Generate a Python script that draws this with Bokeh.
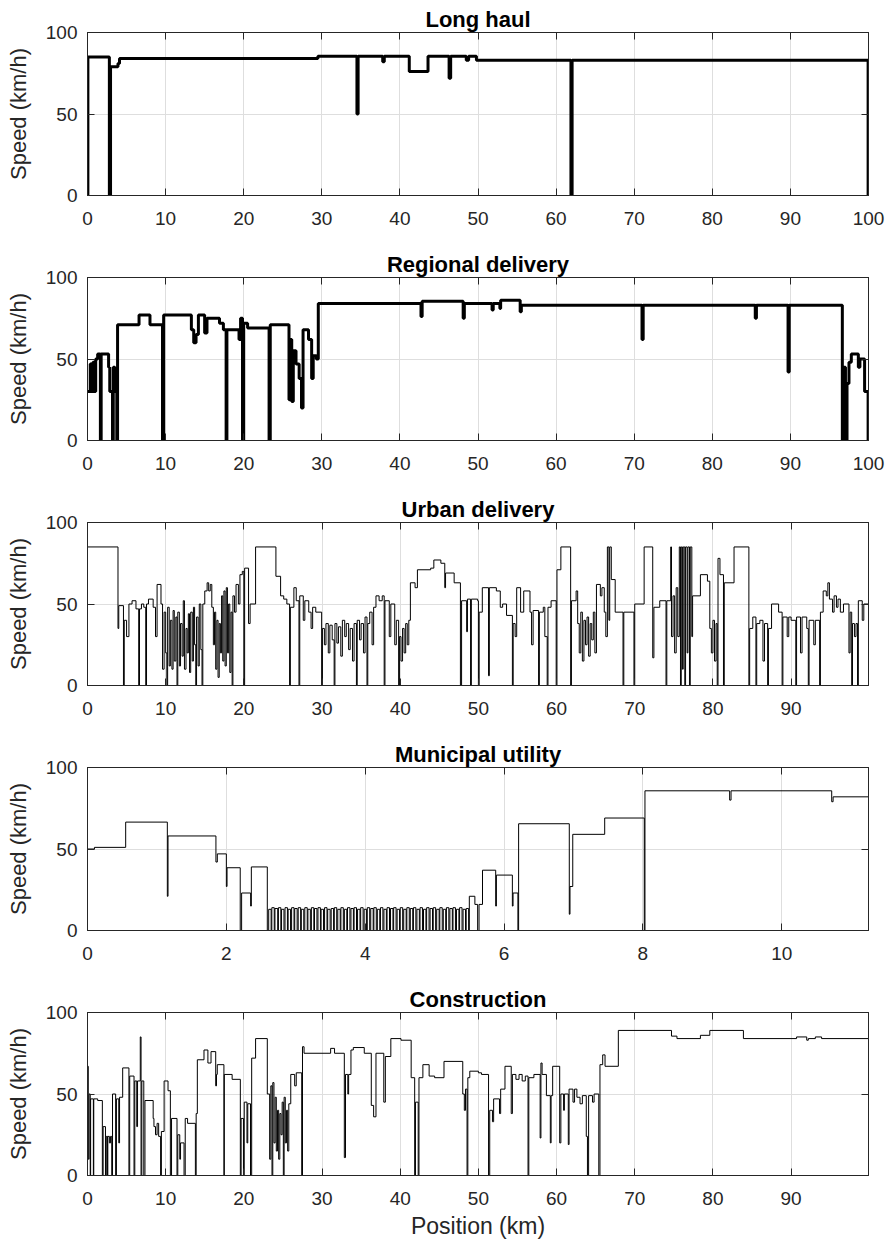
from bokeh.plotting import figure
from bokeh.layouts import column
from bokeh.models import Range1d, FixedTicker, LinearAxis, Grid
from bokeh.embed import file_html
from bokeh.resources import INLINE

# ---------------- data ----------------
speed_ticks = [0, 50, 100]
km_ticks_100 = [0, 10, 20, 30, 40, 50, 60, 70, 80, 90, 100]
km_ticks_90 = [0, 10, 20, 30, 40, 50, 60, 70, 80, 90]
km_ticks_mun = [0, 2, 4, 6, 8, 10]

# Long haul
lh_pos = [0, 0.05, 2.8, 2.95, 3.9, 4.1, 29.5, 34.5, 34.65, 37.8,
          38.0, 41.2, 43.6, 46.3, 46.5, 48.5, 48.8, 49.8, 61.9, 62.05,
          99.95, 100]
lh_speed = [0, 85, 0, 79, 81, 84, 85.5, 50, 85.5, 82,
            85.5, 76, 85.5, 72, 85.5, 83, 85.5, 83, 0, 83,
            0, 0]

# Regional delivery
rd_pos = [0.0, 0.35, 0.5, 0.7, 0.9, 1.05, 1.3, 1.65, 1.75, 2.7,
          2.85, 3.2, 3.3, 3.5, 3.75, 3.85, 6.6, 8.0, 9.6, 9.75,
          13.3, 13.6, 13.9, 14.2, 15.0, 15.3, 16.9, 17.4, 17.75, 17.85,
          19.4, 19.6, 19.85, 20.0, 20.5, 23.25, 23.4, 25.8, 26.0, 26.15,
          26.35, 26.7, 27.1, 27.4, 27.6, 28.3, 28.7, 28.9, 29.3, 29.55,
          42.7, 42.85, 48.1, 48.25, 51.8, 51.95, 52.8, 52.9, 55.4, 55.55,
          71.0, 71.15, 85.5, 85.65, 89.7, 89.85, 96.65, 96.85, 97.05, 97.25,
          97.5, 97.8, 98.7, 98.9, 99.5, 99.95, 100]
rd_speed = [30, 47, 30, 48, 30, 50, 53, 0, 53, 45,
            30, 0, 45, 30, 0, 71, 77, 71, 0, 77,
            68, 60, 65, 77, 66, 75, 72, 68, 0, 68,
            62, 75, 0, 72, 69, 0, 71, 25, 62, 24,
            55, 47, 38, 20, 68, 62, 38, 52, 50, 84,
            76, 85.5, 75, 84, 80, 84, 81, 86, 79, 83,
            62, 83, 75, 83, 42, 83, 0, 45, 0, 35,
            48, 53, 45, 50, 30, 0, 0]

# Urban delivery
ud_pos = [0, 3.9, 4.0, 4.6, 4.7, 5.0, 5.3, 5.7, 6.2, 6.55,
          6.65, 6.9, 7.2, 7.45, 7.55, 7.8, 8.4, 8.7, 8.9, 9.4,
          9.6, 9.8, 10.0, 10.15, 10.25, 10.45, 10.6, 10.8, 10.95, 11.1,
          11.3, 11.45, 11.55, 11.75, 11.9, 12.1, 12.25, 12.4, 12.6, 12.75,
          12.9, 13.05, 13.2, 13.4, 13.55, 13.7, 13.85, 13.95, 14.15, 14.3,
          14.5, 14.65, 14.75, 15.0, 15.3, 15.5, 15.7, 15.9, 16.1, 16.25,
          16.4, 16.55, 16.7, 16.85, 17.0, 17.15, 17.3, 17.45, 17.6, 17.75,
          17.9, 18.05, 18.2, 18.35, 18.5, 18.6, 18.8, 19.0, 19.3, 19.5,
          19.8, 20.0, 20.1, 20.6, 20.8, 21.5, 24.1, 24.7, 25.1, 25.5,
          25.85, 25.95, 26.4, 26.7, 27.05, 27.15, 27.6, 27.8, 28.3, 28.6,
          28.8, 29.2, 29.95, 30.05, 30.3, 30.5, 30.8, 31.0, 31.3, 31.55,
          31.65, 31.9, 32.1, 32.4, 32.6, 32.9, 33.1, 33.4, 33.6, 33.9,
          34.1, 34.4, 34.5, 34.8, 35.0, 35.3, 35.5, 35.75, 35.85, 36.1,
          36.4, 36.6, 36.9, 37.3, 37.7, 37.95, 38.05, 38.6, 38.8, 39.3,
          39.5, 39.8, 39.9, 40.1, 40.3, 40.5, 40.7, 40.9, 41.1, 41.3,
          41.9, 42.2, 43.9, 44.3, 45.2, 45.7, 45.8, 46.9, 47.7, 47.85,
          48.5, 48.6, 49.0, 49.1, 49.9, 50.0, 50.1, 50.5, 51.3, 51.4,
          52.3, 52.8, 53.1, 53.6, 54.35, 54.45, 54.7, 54.9, 55.4, 55.8,
          56.6, 56.8, 57.0, 57.7, 57.8, 58.3, 58.5, 58.8, 58.9, 59.3,
          59.95, 60.05, 60.55, 61.8, 61.9, 62.5, 62.7, 62.9, 63.1, 63.3,
          63.5, 63.7, 63.9, 64.1, 64.3, 64.5, 64.7, 64.9, 65.1, 65.6,
          65.8, 66.1, 66.3, 66.5, 66.7, 66.8, 67.0, 67.5, 68.5, 68.6,
          69.9, 70.0, 71.2, 72.3, 72.45, 73.2, 74.0, 74.1, 74.6, 74.7,
          74.9, 75.1, 75.3, 75.5, 75.7, 75.85, 75.95, 76.1, 76.2, 76.4,
          76.5, 76.7, 76.8, 77.0, 77.1, 77.3, 77.4, 78.4, 79.3, 79.6,
          79.8, 80.0, 80.2, 80.4, 80.55, 80.65, 80.9, 81.35, 81.45, 82.7,
          84.6, 84.7, 85.1, 85.5, 85.6, 86.0, 86.4, 86.6, 87.0, 87.1,
          87.5, 88.4, 88.85, 88.95, 89.5, 89.7, 90.0, 90.6, 90.7, 91.2,
          91.4, 92.0, 92.2, 92.3, 92.9, 93.1, 93.65, 93.75, 94.1, 94.5,
          94.7, 94.9, 95.3, 95.5, 95.8, 96.0, 96.3, 96.7, 97.4, 97.55,
          97.75, 97.85, 98.1, 98.3, 98.5, 98.6, 99.1, 99.3, 99.9]
ud_speed = [85, 35, 49, 0, 40, 30, 50, 52, 47, 0,
            47, 50, 48, 0, 50, 53, 48, 30, 62, 50,
            10, 45, 20, 0, 48, 12, 40, 10, 46, 15,
            42, 0, 45, 12, 38, 18, 52, 10, 35, 20,
            44, 8, 45, 15, 48, 25, 0, 42, 12, 50,
            22, 0, 50, 58, 63, 58, 62, 48, 25, 45,
            10, 40, 5, 38, 20, 55, 15, 58, 12, 60,
            20, 50, 8, 45, 0, 55, 45, 62, 50, 68,
            70, 0, 72, 38, 50, 85, 67, 55, 53, 50,
            0, 48, 60, 52, 0, 55, 40, 52, 45, 35,
            48, 45, 0, 35, 25, 38, 20, 37, 28, 0,
            38, 26, 36, 18, 40, 30, 38, 22, 35, 15,
            38, 0, 40, 28, 38, 20, 42, 0, 38, 45,
            25, 48, 55, 52, 55, 0, 52, 30, 50, 25,
            40, 0, 30, 15, 35, 20, 38, 25, 40, 63,
            60, 71, 72, 77, 75, 60, 69, 63, 0, 52,
            33, 53, 0, 53, 52, 0, 45, 60, 6, 60,
            58, 48, 50, 43, 0, 38, 30, 60, 45, 58,
            45, 25, 46, 0, 45, 48, 30, 0, 48, 52,
            0, 71, 85, 0, 52, 58, 38, 20, 45, 15,
            40, 25, 42, 18, 38, 28, 45, 20, 62, 55,
            60, 45, 30, 85, 40, 85, 65, 45, 0, 45,
            0, 50, 85, 17, 48, 52, 0, 52, 85, 30,
            55, 20, 60, 30, 85, 0, 85, 10, 85, 0,
            85, 20, 85, 0, 85, 30, 55, 68, 64, 35,
            20, 40, 15, 38, 0, 78, 68, 0, 63, 85,
            0, 35, 42, 0, 38, 40, 15, 38, 0, 35,
            50, 45, 0, 42, 30, 42, 40, 0, 42, 20,
            42, 35, 0, 40, 25, 40, 0, 45, 58, 55,
            63, 53, 45, 55, 48, 53, 45, 50, 20, 45,
            0, 38, 30, 38, 0, 52, 40, 50, 50]

# Municipal utility
mu_pos = [0.0, 0.1, 0.55, 1.15, 1.16, 1.85, 1.87, 2.0, 2.01, 2.2,
          2.22, 2.35, 2.36, 2.59,
          2.61, 2.645, 2.655, 2.69, 2.70, 2.74, 2.75, 2.785,
          2.795, 2.83, 2.845, 2.88, 2.89, 2.925, 2.94, 2.975,
          2.985, 3.02, 3.035, 3.07, 3.08, 3.115, 3.13, 3.165,
          3.175, 3.21, 3.225, 3.26, 3.27, 3.305, 3.32, 3.355,
          3.365, 3.40, 3.415, 3.45, 3.46, 3.495, 3.51, 3.545,
          3.555, 3.59, 3.605, 3.64, 3.65, 3.685, 3.70, 3.735,
          3.745, 3.78, 3.795, 3.83, 3.84, 3.875, 3.89, 3.925,
          3.935, 3.97, 3.985, 4.02, 4.03, 4.065, 4.08, 4.115,
          4.125, 4.16, 4.175, 4.21, 4.22, 4.255, 4.27, 4.305,
          4.315, 4.35, 4.365, 4.40, 4.41, 4.445, 4.46, 4.495,
          4.505, 4.54, 4.555, 4.59, 4.60, 4.635, 4.65, 4.685,
          4.695, 4.73, 4.745, 4.78, 4.79, 4.825, 4.84, 4.875,
          4.885, 4.92, 4.935, 4.97, 4.98, 5.015, 5.03, 5.065,
          5.075, 5.11, 5.125, 5.16, 5.17, 5.205, 5.22, 5.255,
          5.265, 5.30, 5.315, 5.35, 5.36, 5.395, 5.41, 5.445,
          5.455, 5.49,
          5.5, 5.58, 5.62, 5.64, 5.69, 5.88, 5.89, 6.12, 6.13, 6.2,
          6.21, 6.94, 6.95, 6.99, 7.45, 8.02, 8.03, 9.25, 9.27, 10.72,
          10.74, 11.25]
mu_speed = [50, 51, 66.5, 21, 58, 42, 47, 27, 38.5, 0,
            23, 15, 39, 0,
            13, 0, 14, 0, 13.5, 0, 14, 0,
            13, 0, 14, 0, 13, 0, 14, 0,
            13.5, 0, 14, 0, 13, 0, 14, 0,
            13, 0, 14, 0, 13.5, 0, 14, 0,
            13, 0, 14, 0, 13, 0, 13.5, 0,
            14, 0, 13, 0, 14, 0, 13, 0,
            14, 0, 13.5, 0, 14, 0, 13, 0,
            14, 0, 13, 0, 14, 0, 13.5, 0,
            14, 0, 13, 0, 14, 0, 13, 0,
            14, 0, 13.5, 0, 14, 0, 13, 0,
            14, 0, 13, 0, 14, 0, 13.5, 0,
            14, 0, 13, 0, 14, 0, 13, 0,
            14, 0, 13.5, 0, 14, 0, 13, 0,
            14, 0, 13, 0, 14, 0, 13.5, 0,
            14, 0, 13, 0, 14, 0, 13, 0,
            13.5, 0,
            21, 16, 0, 16, 37, 15, 34, 15, 23, 0,
            65.5, 10, 27, 59, 69, 0, 85.7, 80, 85.7, 79,
            82, 82]

# Construction
co_pos = [0.0, 0.1, 0.2, 0.35, 0.4, 0.75, 0.8, 1.3, 1.9, 2.0,
          2.3, 2.4, 2.55, 2.6, 2.8, 2.95, 3.1, 3.2, 3.6, 3.7,
          4.0, 4.1, 4.5, 5.3, 5.4, 5.95, 6.05, 6.3, 6.4, 6.75,
          6.85, 6.95, 7.2, 7.35, 8.4, 8.5, 8.7, 8.9, 9.1, 9.35,
          9.45, 9.8, 10.3, 10.6, 10.75, 11.45, 11.55, 11.8, 11.9, 12.35,
          12.5, 12.8, 13.8, 13.9, 14.05, 14.9, 15.4, 15.8, 16.4, 16.5,
          16.6, 17.45, 17.5, 18.5, 19.55, 19.65, 19.95, 20.05, 20.4, 20.5,
          20.85, 21.0, 21.5, 23.0, 23.3, 23.45, 23.6, 23.7, 23.85, 24.0,
          24.15, 24.3, 24.45, 24.6, 24.75, 24.9, 25.05, 25.15, 25.3, 25.45,
          25.6, 25.75, 26.0, 26.5, 26.7, 27.4, 27.5, 27.7, 31.1, 31.6,
          32.85, 33.0, 33.3, 33.4, 33.7, 34.0, 35.4, 36.3, 36.6, 36.9,
          37.9, 38.1, 38.8, 40.1, 41.4, 41.85, 41.95, 42.3, 42.4, 42.9,
          43.7, 44.4, 45.6, 48.0, 48.2, 48.35, 48.55, 48.65, 48.9, 50.0,
          50.4, 51.3, 51.45, 51.8, 51.95, 52.7, 52.85, 53.4, 54.2, 54.35,
          54.8, 55.2, 55.6, 56.0, 56.35, 56.45, 57.1, 57.9, 58.0, 58.15,
          58.7, 59.2, 59.3, 59.5, 60.4, 60.55, 60.9, 61.0, 61.5, 61.6,
          62.1, 62.3, 62.6, 63.0, 63.3, 63.8, 63.95, 64.1, 64.6, 64.8,
          65.4, 65.55, 65.9, 66.2, 67.9, 74.7, 75.4, 78.4, 79.6, 83.9,
          90.7, 92.0, 92.2, 93.1, 93.9, 99.9]
co_speed = [67, 10, 50, 0, 47, 0, 47, 46, 0, 30,
            0, 24, 0, 24, 20, 24, 0, 50, 0, 47,
            20, 48, 66, 0, 61, 0, 58, 30, 58, 85,
            0, 58, 0, 46, 35, 30, 25, 32, 24, 0,
            27, 58, 52, 0, 35, 0, 25, 10, 20, 0,
            35, 32, 0, 38, 71, 77, 69, 76, 55, 62,
            68, 0, 62, 59, 0, 35, 0, 45, 20, 44,
            0, 72, 84, 50, 10, 55, 0, 57, 20, 48,
            15, 40, 10, 38, 25, 45, 0, 48, 20, 40,
            15, 44, 62, 55, 63, 0, 79, 75, 78, 75,
            11, 62, 50, 62, 77, 78.5, 75, 43, 36, 75,
            45, 73, 84, 83, 60, 0, 45, 0, 60, 68,
            61, 60, 70, 50, 40, 53, 0, 60, 64, 63,
            62, 0, 40, 33, 47, 38, 53, 67, 38, 62,
            59, 62, 58, 61, 0, 60, 62, 23, 69, 62,
            49, 20, 49, 67, 20, 50, 40, 50, 19, 53,
            45, 53, 48, 44, 49, 24, 0, 49, 45, 50,
            0, 68, 74, 67, 89, 85.5, 84, 86, 89, 84,
            85, 83, 84, 85, 84, 84]

panels = [
    ("Long haul", lh_pos, lh_speed, 100, km_ticks_100, 3),
    ("Regional delivery", rd_pos, rd_speed, 100, km_ticks_100, 3),
    ("Urban delivery", ud_pos, ud_speed, 99.9, km_ticks_90, 1),
    ("Municipal utility", mu_pos, mu_speed, 11.25, km_ticks_mun, 1),
    ("Construction", co_pos, co_speed, 99.9, km_ticks_90, 1),
]

# ---------------- styling ----------------
FONT = "Liberation Sans"
AX = "#262626"
GRID = "#dedede"
W = 891
TOP, FRAME_H = 32, 163


def style_axis(ax, labels=True, standoff=10):
    ax.axis_line_color = AX
    ax.axis_line_width = 1
    ax.major_tick_line_color = AX
    ax.major_tick_in = 7
    ax.major_tick_out = 0
    ax.minor_tick_line_color = None
    ax.major_label_text_font = FONT
    ax.major_label_text_color = AX
    if labels:
        ax.major_label_text_font_size = "19px"
        ax.major_label_standoff = standoff
    else:
        ax.major_label_text_font_size = "0px"
        ax.major_label_standoff = 0
        ax.major_label_text_alpha = 0


figs = []
n = len(panels)
for i, (title, pos, speed, xmax, xticks, lw) in enumerate(panels):
    last = i == n - 1
    h = 262 if last else 245
    p = figure(width=W, height=h, output_backend="svg", toolbar_location=None,
               x_range=Range1d(0, xmax), y_range=Range1d(0, 100),
               x_axis_type=None, y_axis_type=None,
               min_border_left=87, min_border_right=23, min_border_top=TOP,
               min_border_bottom=h - TOP - FRAME_H)
    p.background_fill_color = "white"
    p.border_fill_color = "white"
    p.outline_line_color = AX
    p.outline_line_width = 1

    p.title.text = title
    p.title.align = "center"
    p.title.text_font = FONT
    p.title.text_font_size = "22px"
    p.title.text_font_style = "bold"
    p.title.text_color = "black"
    p.title.standoff = 2

    xt = FixedTicker(ticks=xticks)
    yt = FixedTicker(ticks=speed_ticks)

    bottom = LinearAxis(ticker=xt)
    style_axis(bottom, True, 16)
    left = LinearAxis(ticker=yt)
    style_axis(left, True, 10)
    left.axis_label = "Speed (km/h)"
    left.axis_label_text_font = FONT
    left.axis_label_text_font_size = "22px"
    left.axis_label_text_font_style = "normal"
    left.axis_label_text_color = AX
    left.axis_label_standoff = 12
    if last:
        bottom.axis_label = "Position (km)"
        bottom.axis_label_text_font = FONT
        bottom.axis_label_text_font_size = "23px"
        bottom.axis_label_text_font_style = "normal"
        bottom.axis_label_text_color = AX
        bottom.axis_label_standoff = 5
    top = LinearAxis(ticker=xt)
    style_axis(top, False)
    right = LinearAxis(ticker=yt)
    style_axis(right, False)

    p.add_layout(bottom, "below")
    p.add_layout(left, "left")
    p.add_layout(top, "above")
    p.add_layout(right, "right")
    p.add_layout(Grid(dimension=0, ticker=xt, grid_line_color=GRID))
    p.add_layout(Grid(dimension=1, ticker=yt, grid_line_color=GRID))

    p.step(x=pos, y=speed, mode="after", line_color="black", line_width=lw)
    figs.append(p)

layout = column(*figs, spacing=0)
open("out.html", "w").write(file_html(layout, INLINE))
